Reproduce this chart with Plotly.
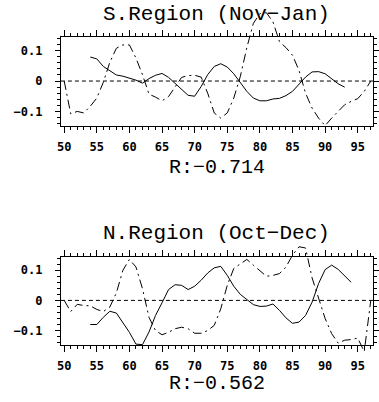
import plotly.graph_objects as go

# ---------------- data ----------------
years_s_solid = list(range(54, 94))
s_solid = [0.079, 0.073, 0.048, 0.034, 0.020, 0.016, 0.009, 0.003, -0.007, 0.008,
           0.019, 0.025, 0.012, -0.008, -0.028, -0.047, -0.050, -0.018, 0.021, 0.048,
           0.057, 0.046, 0.024, -0.003, -0.034, -0.056, -0.065, -0.065, -0.059, -0.057,
           -0.048, -0.034, -0.012, 0.013, 0.030, 0.031, 0.024, 0.007, -0.009, -0.020]

years_s_dash = list(range(50, 98))
s_dash = [0.000, -0.108, -0.100, -0.105, -0.083, -0.056, -0.004, 0.062, 0.108, 0.119,
          0.119, 0.076, 0.021, -0.043, -0.053, -0.065, -0.051, -0.020, 0.012, 0.018,
          0.019, 0.013, -0.040, -0.105, -0.122, -0.105, -0.056, 0.015, 0.110, 0.190,
          0.222, 0.225, 0.195, 0.130, 0.110, 0.085, 0.035, -0.040, -0.089, -0.122,
          -0.147, -0.122, -0.100, -0.078, -0.067, -0.058, -0.034, 0.000]

years_n_solid = list(range(54, 95))
n_solid = [-0.080, -0.080, -0.056, -0.036, -0.042, -0.072, -0.106, -0.145, -0.147, -0.105,
           -0.050, -0.008, 0.036, 0.052, 0.050, 0.036, 0.047, 0.067, 0.091, 0.108,
           0.113, 0.083, 0.047, 0.020, 0.002, -0.014, -0.020, -0.019, -0.012, -0.033,
           -0.058, -0.076, -0.072, -0.050, -0.006, 0.056, 0.102, 0.117, 0.103, 0.083,
           0.060]

years_n_dash = list(range(50, 98))
n_dash = [0.000, -0.037, -0.013, -0.017, -0.018, -0.030, -0.037, -0.022, 0.025, 0.100,
          0.136, 0.111, 0.039, -0.056, -0.100, -0.114, -0.106, -0.094, -0.089, -0.094,
          -0.109, -0.109, -0.100, -0.083, -0.028, 0.050, 0.106, 0.122, 0.136, 0.117,
          0.100, 0.080, 0.083, 0.089, 0.111, 0.150, 0.178, 0.174, 0.075, 0.010,
          -0.060, -0.110, -0.142, -0.132, -0.130, -0.125, -0.170, 0.000]

titles = ["S.Region (Nov\u2212Jan)", "N.Region (Oct\u2212Dec)"]
r_labels = ["R:\u22120.714", "R:\u22120.562"]
x_tickvals = [50, 55, 60, 65, 70, 75, 80, 85, 90, 95]
y_tickvals = [-0.1, 0, 0.1]
y_ticktext = ["\u22120.1", "0", "0.1"]
zero_level = [0, 0]

# ---------------- layout constants ----------------
W, H = 379, 402
OFF = 0                      # page body margin is removed by post_script below
X_RANGE = [49.5, 97.35]
Y_RANGE = [-0.148, 0.145]
BOX_L, BOX_R = 58, 376       # page pixels
panels = [
    dict(top=37, bottom=126, ext_top=0, ext_bottom=140, title_y=14.5, r_y=167,
         years=(years_s_solid, years_s_dash), vals=(s_solid, s_dash)),
    dict(top=256.7, bottom=345, ext_top=222, ext_bottom=362, title_y=233, r_y=383.5,
         years=(years_n_solid, years_n_dash), vals=(n_solid, n_dash)),
]

def py2paper(p):
    return 1 - (p - OFF) / H

def px2paper(p):
    return (p - OFF) / W

fig = go.Figure()
layout = dict(width=W, height=H, margin=dict(l=0, r=0, t=0, b=0),
              plot_bgcolor="rgba(0,0,0,0)", paper_bgcolor="white", showlegend=False,
              annotations=[])

TICKFONT = dict(family="DejaVu Sans Mono", size=12, color="black", weight="bold")
TITLEFONT = dict(family="Liberation Mono", size=21, color="black")
RFONT = dict(family="Liberation Mono", size=20, color="black")

for i, p in enumerate(panels):
    xa = "xaxis" if i == 0 else "xaxis2"
    xid = "x" if i == 0 else "x2"
    ya_box_n = 1 + 2 * i          # 1 or 3
    ya_ext_n = 2 + 2 * i          # 2 or 4
    ya_box = "yaxis" if ya_box_n == 1 else f"yaxis{ya_box_n}"
    yid_box = "y" if ya_box_n == 1 else f"y{ya_box_n}"
    ya_ext = f"yaxis{ya_ext_n}"
    yid_ext = f"y{ya_ext_n}"

    d0, d1 = py2paper(p["bottom"]), py2paper(p["top"])
    e0, e1 = py2paper(p["ext_bottom"]), min(1.0, py2paper(p["ext_top"]))
    r0, r1 = Y_RANGE
    scale = (r1 - r0) / (d1 - d0)
    ext_range = [r0 - (d0 - e0) * scale, r1 + (e1 - d1) * scale]

    layout[xa] = dict(domain=[px2paper(BOX_L), px2paper(BOX_R)], range=X_RANGE,
                      anchor=yid_box,
                      tickvals=x_tickvals, ticks="outside", ticklen=6, tickwidth=1,
                      tickcolor="black", showline=True, linecolor="black", linewidth=1,
                      mirror="ticks", showgrid=False, zeroline=False, tickfont=TICKFONT,
                      ticklabelstandoff=4,
                      minor=dict(dtick=1, tick0=0, ticks="outside", ticklen=3,
                                 tickcolor="black", tickwidth=1, showgrid=False))
    layout[ya_box] = dict(domain=[d0, d1], range=Y_RANGE, anchor=xid,
                          tickvals=y_tickvals, ticktext=y_ticktext, ticks="outside",
                          ticklen=5, tickwidth=1, tickcolor="black", showline=True,
                          linecolor="black", linewidth=1, mirror="ticks", showgrid=False,
                          zeroline=False, tickfont=TICKFONT, ticklabelstandoff=10,
                          minor=dict(dtick=0.02, tick0=0, ticks="outside", ticklen=3,
                                     tickcolor="black", tickwidth=1, showgrid=False))
    layout[ya_ext] = dict(domain=[e0, e1], range=ext_range, anchor=xid, visible=False,
                          showgrid=False, zeroline=False)

    # dashed zero reference line on the framed subplot (also makes it the main subplot)
    fig.add_trace(go.Scatter(x=X_RANGE, y=zero_level, mode="lines", xaxis=xid,
                             yaxis=yid_box, hoverinfo="skip",
                             line=dict(color="black", width=1, dash="4px,3px")))

    ys, yd = p["years"]
    vs, vd = p["vals"]
    fig.add_trace(go.Scatter(x=ys, y=vs, mode="lines", xaxis=xid, yaxis=yid_ext,
                             line=dict(color="black", width=1)))
    fig.add_trace(go.Scatter(x=yd, y=vd, mode="lines", xaxis=xid, yaxis=yid_ext,
                             line=dict(color="black", width=1, dash="9px,4px,2px,4px")))

    cx = px2paper((BOX_L + BOX_R) / 2)
    layout["annotations"].append(dict(text=titles[i], xref="paper", yref="paper",
                                      x=cx, y=py2paper(p["title_y"]), xanchor="center",
                                      yanchor="middle", showarrow=False, font=TITLEFONT))
    layout["annotations"].append(dict(text=r_labels[i], xref="paper", yref="paper",
                                      x=cx, y=py2paper(p["r_y"]), xanchor="center",
                                      yanchor="middle", showarrow=False, font=RFONT))

fig.update_layout(**layout)
fig.write_html("out.html", config={"displayModeBar": False},
               post_script="document.body.style.margin='0';document.body.style.overflow='hidden';")
